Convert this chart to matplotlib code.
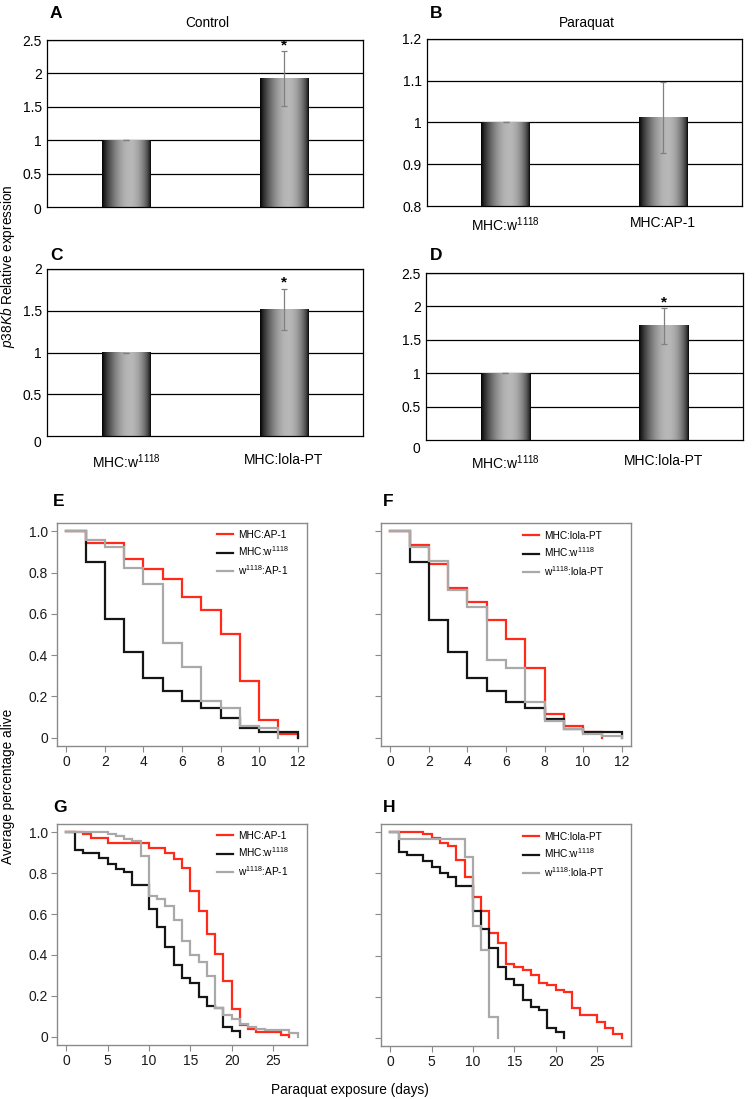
import numpy as np
import matplotlib
matplotlib.use("Agg")
import matplotlib.pyplot as plt
from matplotlib.lines import Line2D

plt.rcParams['font.family'] = ['Liberation Sans', 'DejaVu Sans']
plt.rcParams['mathtext.fontset'] = 'custom'
plt.rcParams['mathtext.rm'] = 'Liberation Sans'
plt.rcParams['mathtext.it'] = 'Liberation Sans:italic'
plt.rcParams['mathtext.default'] = 'regular'

# ---------------- data: bar panels (relative p38Kb expression) ----------------
W1118 = 'MHC:w$^{1118}$'
A_categories = ['', '']
A_values = [1.0, 1.92]
A_errors = [0.0, 0.41]
A_signif = [False, True]

B_categories = [W1118, 'MHC:AP-1']
B_values = [1.0, 1.013]
B_errors = [0.0, 0.085]
B_signif = [False, False]

C_categories = [W1118, 'MHC:lola-PT']
C_values = [1.0, 1.516]
C_errors = [0.0, 0.25]
C_signif = [False, True]

D_categories = [W1118, 'MHC:lola-PT']
D_values = [1.0, 1.708]
D_errors = [0.0, 0.265]
D_signif = [False, True]

# ---------------- data: survival curves (fraction alive at each day) ----------------
E_labels = ['MHC:AP-1', W1118, 'w$^{1118}$:AP-1']
E_red = [1.0, 0.943, 0.943, 0.866, 0.817, 0.767, 0.684, 0.617, 0.502, 0.275, 0.086, 0.016, 0.0]
E_black = [1.0, 0.853, 0.573, 0.413, 0.291, 0.228, 0.180, 0.146, 0.094, 0.045, 0.026, 0.026, 0.0]
E_gray = [1.0, 0.96, 0.924, 0.82, 0.744, 0.458, 0.343, 0.18, 0.146, 0.057, 0.045, 0.0]

F_labels = ['MHC:lola-PT', W1118, 'w$^{1118}$:lola-PT']
F_red = [1.0, 0.934, 0.843, 0.723, 0.659, 0.568, 0.479, 0.34, 0.113, 0.057, 0.026, 0.0]
F_black = [1.0, 0.85, 0.57, 0.413, 0.291, 0.227, 0.172, 0.146, 0.091, 0.04, 0.026, 0.026, 0.0]
F_gray = [1.0, 0.924, 0.858, 0.715, 0.631, 0.375, 0.337, 0.172, 0.083, 0.04, 0.018, 0.01, 0.0]

G_labels = ['MHC:AP-1', W1118, 'w$^{1118}$:AP-1']
G_red = [1.0, 1.0, 0.99, 0.97, 0.97, 0.945, 0.945, 0.945, 0.945, 0.945, 0.924, 0.924, 0.90,
         0.87, 0.827, 0.713, 0.614, 0.504, 0.404, 0.272, 0.138, 0.06, 0.039, 0.024, 0.024,
         0.024, 0.011, 0.0]
G_black = [1.0, 0.915, 0.9, 0.9, 0.874, 0.845, 0.82, 0.803, 0.744, 0.744, 0.625, 0.535, 0.44,
           0.35, 0.287, 0.261, 0.193, 0.151, 0.139, 0.05, 0.03, 0.0]
G_gray = [1.0, 1.0, 1.0, 1.0, 1.0, 0.989, 0.979, 0.968, 0.956, 0.885, 0.69, 0.675, 0.637,
          0.572, 0.47, 0.398, 0.366, 0.297, 0.142, 0.106, 0.088, 0.063, 0.05, 0.04, 0.035,
          0.035, 0.035, 0.017, 0.0]

H_labels = ['MHC:lola-PT', W1118, 'w$^{1118}$:lola-PT']
H_red = [1.0, 1.0, 1.0, 1.0, 0.99, 0.972, 0.948, 0.935, 0.865, 0.78, 0.683, 0.618, 0.508,
         0.46, 0.357, 0.344, 0.328, 0.306, 0.266, 0.255, 0.233, 0.222, 0.144, 0.109, 0.109,
         0.079, 0.047, 0.016, 0.0]
H_black = [1.0, 0.906, 0.891, 0.891, 0.859, 0.83, 0.802, 0.784, 0.739, 0.739, 0.619, 0.527,
           0.436, 0.344, 0.285, 0.255, 0.182, 0.149, 0.136, 0.047, 0.028, 0.0]
H_gray = [1.0, 0.968, 0.968, 0.968, 0.968, 0.968, 0.968, 0.968, 0.968, 0.879, 0.543, 0.425,
          0.1, 0.0]

# ---------------- layout helpers ----------------
W, H = 753, 1099
fig = plt.figure(figsize=(W / 100, H / 100), dpi=100)


def rect(x0, y0, x1, y1):
    return [x0 / W, 1 - y1 / H, (x1 - x0) / W, (y1 - y0) / H]


def ftext(x, y, s, **kw):
    fig.text(x / W, 1 - y / H, s, **kw)


t = np.linspace(0, 1, 128)
grad = 0.72 * np.sin(np.pi * t ** 1.25) ** 0.65
grad = grad[np.newaxis, :]


def bar_panel(box, cats, vals, errs, sig, ylim, yticks, yticklabels, xpad, zero_drop):
    ax = fig.add_axes(rect(*box))
    bw = 0.31
    for i, (v, e, s) in enumerate(zip(vals, errs, sig)):
        ax.imshow(grad, extent=(i - bw / 2, i + bw / 2, ylim[0], v), aspect='auto',
                  cmap='gray', vmin=0, vmax=1, zorder=2, interpolation='bilinear')
        ax.errorbar(i, v, yerr=e, color='#808080', lw=0.9, capsize=2.5, capthick=0.9, zorder=3)
        if s:
            ax.annotate('*', (i, v + e), xytext=(0, -1), textcoords='offset points',
                        ha='center', va='bottom', fontsize=11, fontweight='bold')
    for y in yticks[1:]:
        ax.axhline(y, color='black', lw=0.9, zorder=1)
    ax.set_xlim(-0.5, 1.5)
    ax.set_ylim(*ylim)
    ticks = [y for y in yticks if not (zero_drop and y == 0)]
    labs = [l for y, l in zip(yticks, yticklabels) if not (zero_drop and y == 0)]
    ax.set_yticks(ticks)
    ax.set_yticklabels(labs)
    if zero_drop:
        ax.annotate('0', xy=(0, 0), xycoords=('axes fraction', 'data'),
                    xytext=(-3.8, -zero_drop), textcoords='offset points',
                    ha='right', va='center', fontsize=10)
    ax.set_xticks([0, 1])
    ax.set_xticklabels(cats)
    ax.tick_params(axis='both', length=0, labelsize=10)
    ax.tick_params(axis='y', pad=3.8)
    ax.tick_params(axis='x', pad=xpad)
    for sp in ax.spines.values():
        sp.set_color('black')
        sp.set_linewidth(0.9)
    return ax


bar_panel((47, 40, 363, 207), A_categories, A_values, A_errors, A_signif, (0, 2.5),
          [0, 0.5, 1, 1.5, 2, 2.5], ['0', '0.5', '1', '1.5', '2', '2.5'], 7, 2.5)
bar_panel((427, 39, 742, 206), B_categories, B_values, B_errors, B_signif, (0.8, 1.2),
          [0.8, 0.9, 1.0, 1.1, 1.2], ['0.8', '0.9', '1', '1.1', '1.2'], 7, 0)
bar_panel((47, 269, 363, 436), C_categories, C_values, C_errors, C_signif, (0, 2),
          [0, 0.5, 1, 1.5, 2], ['0', '0.5', '1', '1.5', '2'], 12, 5)
bar_panel((426, 273, 743, 440), D_categories, D_values, D_errors, D_signif, (0, 2.5),
          [0, 0.5, 1, 1.5, 2, 2.5], ['0', '0.5', '1', '1.5', '2', '2.5'], 10, 6.5)

RED, BLACK, GRAY = '#ff2a1a', '#151515', '#a9a9a9'
FRAME = '#8a8a8a'


def surv_panel(box, series, labels, xmax, xticks, show_ylabels, leg_xy):
    ax = fig.add_axes(rect(*box))
    handles = []
    for vals, col in zip(series, [RED, BLACK, GRAY]):
        days = np.arange(len(vals))
        ax.step(days, vals, where='post', color=col, lw=1.6, solid_joinstyle='miter')
        handles.append(Line2D([], [], color=col, lw=1.6))
    pad = 0.04 * xmax
    ax.set_xlim(-pad, xmax + pad)
    ax.set_ylim(-0.04, 1.04)
    ax.set_xticks(xticks)
    ax.set_yticks([0, 0.2, 0.4, 0.6, 0.8, 1.0])
    if show_ylabels:
        ax.set_yticklabels(['0', '0.2', '0.4', '0.6', '0.8', '1.0'])
    else:
        ax.set_yticklabels([])
    ax.tick_params(axis='both', colors=FRAME, labelcolor='#1a1a1a', length=4.5, width=0.8,
                   labelsize=10, pad=2)
    for sp in ax.spines.values():
        sp.set_color(FRAME)
        sp.set_linewidth(1.0)
    lx, ly = leg_xy
    ax.legend(handles, labels, loc='upper left', bbox_to_anchor=(lx / W, 1 - ly / H),
              bbox_transform=fig.transFigure, frameon=False, fontsize=7.3, borderpad=0,
              borderaxespad=0, handlelength=1.6, handletextpad=0.45, labelspacing=0.45)
    return ax


surv_panel((57, 523, 307, 746), [E_red, E_black, E_gray], E_labels, 12, range(0, 13, 2), True, (217, 530))
surv_panel((381, 523, 631, 746), [F_red, F_black, F_gray], F_labels, 12, range(0, 13, 2), False, (523, 531))
surv_panel((57, 824, 307, 1045), [G_red, G_black, G_gray], G_labels, 28, range(0, 26, 5), True, (217, 831))
surv_panel((381, 824, 631, 1046), [H_red, H_black, H_gray], H_labels, 28, range(0, 26, 5), False, (523, 832))

# ---------------- texts ----------------
for lab, x, y in [('A', 50, 14), ('B', 430, 13), ('C', 50, 255), ('D', 430, 255),
                  ('E', 53, 502), ('F', 383, 502), ('G', 53, 807), ('H', 383, 807)]:
    ftext(x, y, lab, fontsize=12.5, fontweight='bold', ha='left', va='center')

ftext(207, 23, 'Control', fontsize=9.8, ha='center', va='center')
ftext(587, 23, 'Paraquat', fontsize=9.8, ha='center', va='center')
ftext(8, 266, r'$\mathit{p38Kb}$ Relative expression', fontsize=9.8, rotation=90,
      ha='center', va='center')
ftext(8, 786, 'Average percentage alive', fontsize=9.8, rotation=90, ha='center', va='center')
ftext(350, 1090, 'Paraquat exposure (days)', fontsize=9.8, ha='center', va='center')

fig.savefig('out.png', dpi=100)
